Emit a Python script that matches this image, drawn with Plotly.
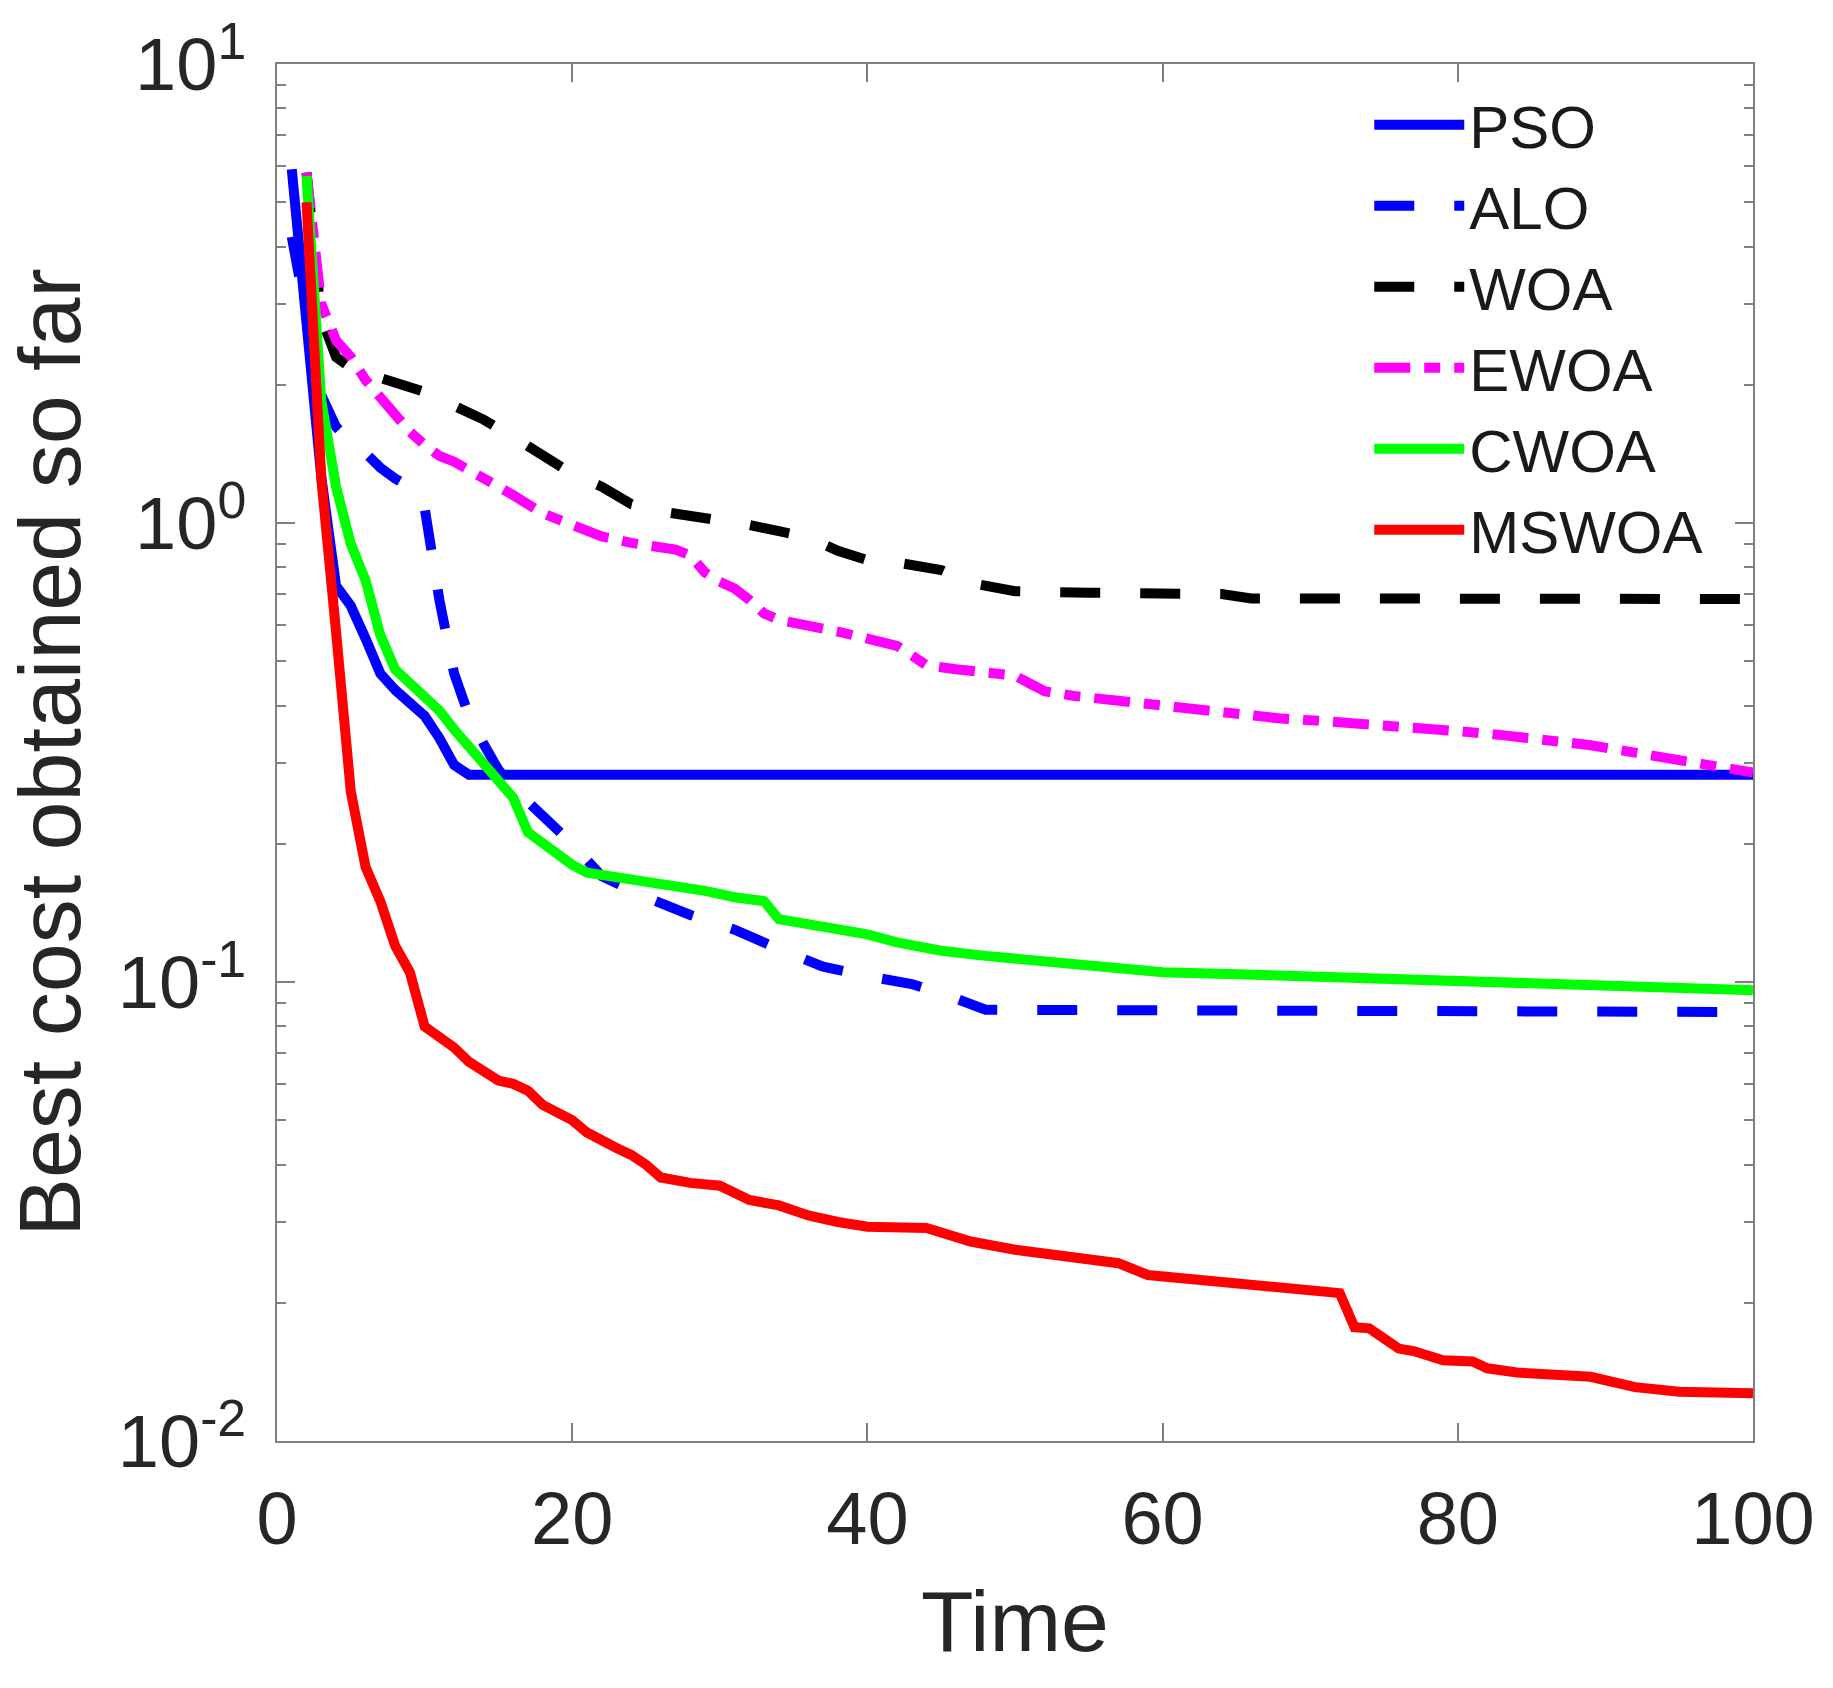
import plotly.graph_objects as go

# convergence curves (Time, best cost)
pso_t = [1, 2, 3, 4, 5, 6, 7, 8, 9, 10, 11, 12, 13, 14, 100]
pso_v = [5.9, 2.6, 1.26, 0.73, 0.66, 0.56, 0.47, 0.433, 0.405, 0.38, 0.34, 0.297, 0.283, 0.283, 0.283]

alo_t = [1, 2, 3, 4, 5, 6, 7, 8, 9, 10, 11, 12, 13, 14, 15, 16, 18, 20, 22, 25, 28, 31, 34, 37, 40, 43, 46, 48, 100]
alo_v = [4.2, 2.9, 1.9, 1.62, 1.5, 1.42, 1.32, 1.25, 1.2, 1.08, 0.68, 0.47, 0.38, 0.33, 0.29, 0.265, 0.23, 0.20,
         0.17, 0.153, 0.14, 0.13, 0.118, 0.108, 0.103, 0.099, 0.092, 0.087, 0.086]

woa_t = [2, 3, 4, 5, 6, 8, 10, 12, 14, 16, 18, 20, 22, 24, 26, 28, 30, 32, 34, 36, 38, 40, 42, 44, 45, 47,
         50, 55, 60, 64, 66, 100]
woa_v = [5.8, 2.8, 2.3, 2.18, 2.12, 2.03, 1.93, 1.8, 1.68, 1.54, 1.40, 1.28, 1.2, 1.1, 1.06, 1.04, 1.01, 0.99,
         0.96, 0.93, 0.87, 0.83, 0.82, 0.80, 0.79, 0.74, 0.71, 0.705, 0.70, 0.70, 0.685, 0.683]

ewoa_t = [2, 3, 4, 5, 6, 7, 8, 9, 10, 11, 12, 13, 14, 15, 16, 17, 18, 19, 20, 22, 24, 26, 27, 28, 29, 30, 31,
          32, 33, 34, 36, 38, 40, 42, 43, 44, 46, 48, 50, 51, 52, 54, 56, 58, 60, 62, 65, 68, 71, 74, 77, 80,
          83, 86, 89, 92, 95, 98, 100]
ewoa_v = [5.8, 3.0, 2.5, 2.3, 2.05, 1.88, 1.72, 1.58, 1.48, 1.40, 1.36, 1.30, 1.24, 1.2, 1.15, 1.10, 1.05, 1.02,
          0.99, 0.935, 0.905, 0.88, 0.875, 0.85, 0.78, 0.745, 0.72, 0.68, 0.635, 0.615, 0.60, 0.58, 0.56, 0.54,
          0.515, 0.49, 0.48, 0.475, 0.465, 0.447, 0.43, 0.42, 0.413, 0.405, 0.40, 0.39, 0.383, 0.375, 0.37,
          0.365, 0.36, 0.352, 0.345, 0.337, 0.328, 0.316, 0.305, 0.295, 0.286]

cwoa_t = [2, 3, 4, 5, 6, 7, 8, 9, 10, 11, 12, 13, 14, 15, 16, 17, 18, 20, 21, 23, 25, 27, 29, 31, 33, 34, 36,
          38, 40, 42, 45, 48, 52, 56, 60, 65, 70, 75, 80, 85, 90, 95, 100]
cwoa_v = [5.7, 1.85, 1.2, 0.90, 0.75, 0.57, 0.48, 0.45, 0.42, 0.39, 0.355, 0.325, 0.295, 0.27, 0.252, 0.212,
          0.200, 0.180, 0.173, 0.169, 0.166, 0.163, 0.158, 0.153, 0.150, 0.137, 0.134, 0.131, 0.127, 0.122,
          0.117, 0.114, 0.111, 0.108, 0.105, 0.104, 0.103, 0.102, 0.100, 0.099, 0.098, 0.097, 0.096]

mswoa_t = [2, 3, 4, 5, 6, 7, 8, 9, 10, 11, 12, 13, 14, 15, 16, 17, 18, 19, 20, 21, 22, 23, 24, 25, 26, 28,
           30, 31, 32, 34, 36, 38, 40, 44, 45, 47, 50, 54, 57, 59, 64, 68, 72, 73, 74, 76, 77, 79, 81, 82,
           84, 89, 92, 95, 100]
mswoa_v = [5.0, 1.25, 0.58, 0.26, 0.178, 0.150, 0.120, 0.105, 0.080, 0.076, 0.072, 0.067, 0.064, 0.061, 0.060,
           0.058, 0.054, 0.052, 0.050, 0.047, 0.045, 0.0435, 0.042, 0.040, 0.0375, 0.0365, 0.036, 0.0345,
           0.0335, 0.0326, 0.031, 0.030, 0.0293, 0.0291, 0.0285, 0.0272, 0.0261, 0.0252, 0.0244, 0.023,
           0.0222, 0.0217, 0.021, 0.0177, 0.0176, 0.0159, 0.0157, 0.0150, 0.0149, 0.0144, 0.0141, 0.0138,
           0.0131, 0.0128, 0.0127]

x_ticks = [0, 20, 40, 60, 80, 100]
y_tickvals = [0.01, 0.1, 1, 10]
y_ticktext = ["10<sup>-2</sup>", "10<sup>-1</sup>", "10<sup>0</sup>", "10<sup>1</sup>"]

series = [
    ("PSO", pso_t, pso_v, "rgb(0,0,255)", "solid"),
    ("ALO", alo_t, alo_v, "rgb(0,0,255)", "40px,40px"),
    ("WOA", woa_t, woa_v, "rgb(0,0,0)", "40px,40px"),
    ("EWOA", ewoa_t, ewoa_v, "rgb(255,0,255)", "36px,14px,16px,14px"),
    ("CWOA", cwoa_t, cwoa_v, "rgb(0,255,0)", "solid"),
    ("MSWOA", mswoa_t, mswoa_v, "rgb(255,0,0)", "solid"),
]

fig = go.Figure()
for name, t, v, col, dash in series:
    fig.add_trace(go.Scatter(x=t, y=v, name=name, mode="lines",
                             line=dict(color=col, width=10, dash=dash)))

axis_col = "#808080"
fig.update_layout(
    width=1833, height=1688,
    margin=dict(l=277, r=80, t=64, b=247),
    paper_bgcolor="white", plot_bgcolor="white",
    font=dict(family="Liberation Sans, Arial", color="#262626", size=72),
    legend=dict(x=0.740, y=0.989, xanchor="left", yanchor="top",
                font=dict(size=60, color="#1a1a1a"), bgcolor="rgba(0,0,0,0)",
                itemwidth=90),
)
fig.update_xaxes(
    range=[0, 100], tickvals=x_ticks, ticks="inside", ticklen=18, tickwidth=2, tickcolor=axis_col,
    showline=True, linecolor=axis_col, linewidth=2, mirror="ticks", showgrid=False, zeroline=False,
    tickfont=dict(size=74), ticklabelstandoff=12,
    title=dict(text="Time", font=dict(size=86), standoff=32),
)
fig.update_yaxes(
    type="log", range=[-2, 1], tickmode="array", tickvals=y_tickvals, ticktext=y_ticktext,
    ticks="inside", ticklen=18, tickwidth=2, tickcolor=axis_col,
    minor=dict(dtick="D1", ticks="inside", ticklen=9, tickwidth=2, tickcolor=axis_col, showgrid=False),
    showline=True, linecolor=axis_col, linewidth=2, mirror="ticks", showgrid=False, zeroline=False,
    tickfont=dict(size=74), ticklabelstandoff=14,
    title=dict(text="Best cost obtained so far", font=dict(size=88), standoff=20),
)

fig.write_html("out.html", config={"displayModeBar": False},
               post_script="document.body.style.margin='0';")
